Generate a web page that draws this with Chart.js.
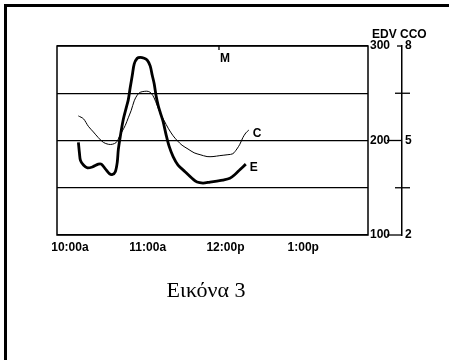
<!DOCTYPE html>
<html>
<head>
<meta charset="utf-8">
<script src="https://cdn.jsdelivr.net/npm/chart.js@4"></script>
<style>
  body { margin: 0; background: #fff; }
  #wrap { position: relative; width: 449px; height: 360px; overflow: hidden; }
  #frame { position: absolute; left: 4px; top: 4px; width: 460px; height: 380px;
           border-left: 3px solid #000; border-top: 3px solid #000; }
  #chart-1 { position: absolute; left: 0; top: 0; }
  #hdr { position: absolute; left: 372px; top: 27px; font: bold 12px "Liberation Sans", sans-serif; }
  #cap { position: absolute; left: 0; width: 412px; top: 277px; text-align: center;
         font: 22px "Liberation Serif", "DejaVu Serif", serif; }
</style>
</head>
<body>
<div id="wrap">
  <div id="frame"></div>
  <canvas id="chart-1" width="449" height="360"></canvas>
  <div id="hdr">EDV CCO</div>
  <div id="cap">Εικόνα 3</div>
</div>
<script>
// minutes after 10:00a
const timeTicks = [0, 60, 120, 180];
const timeLabels = ["10:00a", "11:00a", "12:00p", "1:00p"];
const markAt = 115;

// E = EDV (thick)
const edvTime = [6.5, 7.3, 8.1, 10.4, 13.5, 17.3, 21.9, 24.2, 27.3, 30.4, 32.7, 35.0, 36.5, 37.3,
  38.8, 41.1, 43.5, 45.0, 46.5, 48.1, 49.6, 51.9, 54.2, 57.3, 59.6, 61.9, 63.5, 65.0, 66.5, 68.1,
  69.6, 71.9, 74.2, 76.5, 79.6, 83.4, 88.8, 94.2, 98.1, 102.7, 108.1, 113.4, 118.0, 123.4, 127.3,
  131.1, 135.7];
const edvValues = [198, 187, 179, 174, 171, 172, 175, 175, 170, 165, 164, 167, 177, 190,
  204, 222, 235, 243, 256, 269, 281, 287, 288, 287, 285, 279, 269, 260, 247, 237,
  230, 220, 206, 194, 183, 174, 167, 160, 156, 155, 156, 157, 158, 160, 164,
  169, 175];

// C = CCO (thin), read on the EDV grid
const ccoTime = [6.5, 10.4, 14.2, 18.1, 21.9, 25.8, 29.6, 32.7, 35.8, 38.1, 40.4, 42.7, 45.0, 47.3,
  49.6, 51.9, 54.2, 57.3, 60.4, 62.7, 65.0, 67.3, 69.6, 72.7, 75.8, 79.6, 82.7, 86.5, 91.1, 95.8,
  100.4, 105.8, 110.4, 115.7, 121.9, 125.7, 128.8, 131.1, 133.4, 135.7, 138.0];
const ccoValues = [226, 223, 215, 209, 203, 198, 196, 196, 198, 204, 210, 216, 224, 232,
  242, 248, 251, 252, 252, 250, 245, 237, 229, 221, 213, 205, 200, 195, 191, 187,
  185, 183, 183, 184, 185, 186, 191, 196, 203, 208, 211];

const edvLabels = [100, 200, 300];
const ccoLabels = [2, 5, 8];

const tickFont = { family: "'Liberation Sans', sans-serif", size: 12, weight: "bold" };

const frameAndNotes = {
  id: "frameAndNotes",
  afterDraw(chart) {
    const { ctx, chartArea: a, scales } = chart;
    ctx.save();
    ctx.strokeStyle = "#000";
    ctx.fillStyle = "#000";
    ctx.lineWidth = 1.5;
    ctx.strokeRect(a.left, a.top, a.right - a.left, a.bottom - a.top);

    // cross marks on the CCO axis
    const c = scales.cco;
    ctx.lineWidth = 1.3;
    c.ticks.forEach((t) => {
      const y = c.getPixelForValue(t.value);
      let l = 7, r = 8;
      if (t.value === 5 || t.value === 2) { l = 15; r = 0; }
      if (t.value === 8) { l = 5; r = 0; }
      ctx.beginPath();
      ctx.moveTo(c.left - l, y);
      ctx.lineTo(c.left + r, y);
      ctx.stroke();
    });

    // M marker
    const mx = scales.x.getPixelForValue(markAt);
    ctx.beginPath();
    ctx.moveTo(mx, a.top);
    ctx.lineTo(mx, a.top + 4);
    ctx.stroke();
    ctx.font = "bold 12px 'Liberation Sans', sans-serif";
    ctx.textBaseline = "top";
    ctx.fillText("M", mx + 1, a.top + 7);

    // series end labels
    ctx.textBaseline = "middle";
    chart.data.datasets.forEach((ds, i) => {
      const pts = chart.getDatasetMeta(i).data;
      const p = pts[pts.length - 1];
      ctx.fillText(ds.label, p.x + 4, p.y + 4);
    });
    ctx.restore();
  },
};

new Chart(document.getElementById("chart-1"), {
  type: "line",
  data: {
    datasets: [
      {
        label: "C",
        data: ccoTime.map((t, i) => ({ x: t, y: ccoValues[i] })),
        borderColor: "#000",
        borderWidth: 1,
        pointRadius: 0,
        tension: 0.3,
      },
      {
        label: "E",
        data: edvTime.map((t, i) => ({ x: t, y: edvValues[i] })),
        borderColor: "#000",
        borderWidth: 2.8,
        pointRadius: 0,
        tension: 0.3,
      },
    ],
  },
  options: {
    responsive: false,
    animation: false,
    layout: { padding: { left: 57, top: 46, right: 27, bottom: 101 } },
    plugins: { legend: { display: false }, tooltip: { enabled: false } },
    scales: {
      x: {
        type: "linear",
        min: -10,
        max: 230,
        afterBuildTicks: (s) => { s.ticks = timeTicks.map((v) => ({ value: v })); },
        afterFit: (s) => { s.height = 24; },
        grid: { display: false, drawTicks: false },
        border: { display: false },
        ticks: {
          color: "#000",
          font: tickFont,
          padding: 5,
          maxRotation: 0,
          callback: (v) => timeLabels[timeTicks.indexOf(v)],
        },
      },
      y: {
        position: "right",
        min: 100,
        max: 300,
        afterFit: (s) => { s.width = 34; },
        border: { display: false },
        grid: { color: "#000", lineWidth: 1.2, drawTicks: false },
        ticks: {
          stepSize: 50,
          color: "#000",
          font: tickFont,
          padding: 2,
          callback: (v) => (edvLabels.includes(v) ? String(v) : ""),
        },
      },
      cco: {
        position: "right",
        min: 2,
        max: 8,
        afterFit: (s) => { s.width = 20; },
        border: { display: true, color: "#000", width: 1.5 },
        grid: { drawOnChartArea: false, drawTicks: false },
        ticks: {
          stepSize: 1.5,
          color: "#000",
          font: tickFont,
          padding: 3,
          callback: (v) => (ccoLabels.includes(v) ? String(v) : ""),
        },
      },
    },
  },
  plugins: [frameAndNotes],
});
</script>
</body>
</html>
